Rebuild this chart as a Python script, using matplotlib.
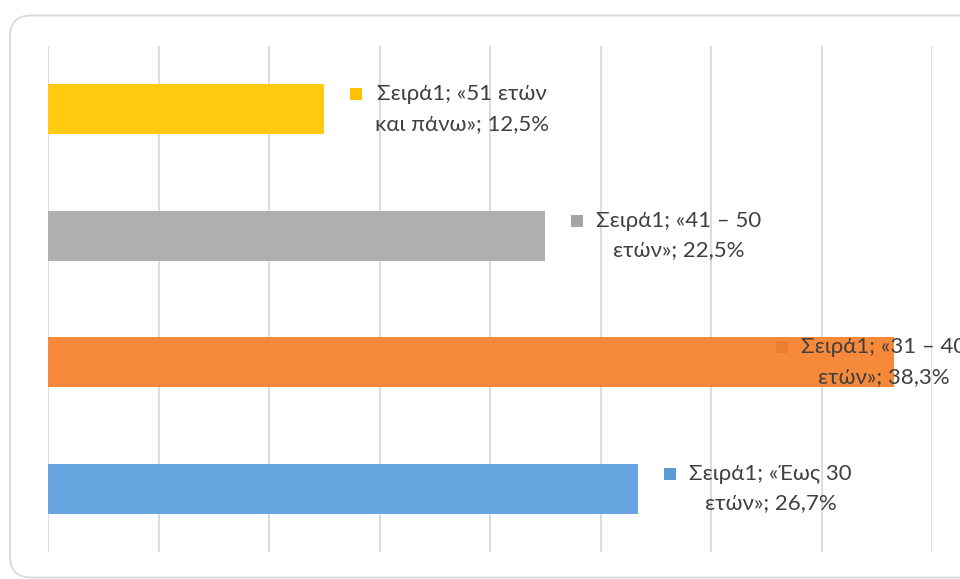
"""Age-group distribution, horizontal bar chart with data labels."""

import matplotlib.pyplot as plt
from matplotlib.patches import FancyBboxPatch
from matplotlib.transforms import offset_copy

series_name = "Σειρά1"
cat_head = ["Έως 30", "31 – 40", "41 – 50", "51 ετών"]
cat_tail = ["ετών", "ετών", "ετών", "και πάνω"]
values = [26.7, 38.3, 22.5, 12.5]
bar_colors = ["#67A6E0", "#F7893B", "#AFAFAF", "#FFCA10"]
key_colors = ["#5B9BD5", "#ED7D31", "#A5A5A5", "#FFC000"]

DPI = 100
fig = plt.figure(figsize=(9.6, 5.79), dpi=DPI)
W, H = 960, 579

# rounded chart-area frame, running off the right edge
frame = FancyBboxPatch(
    (10 / W, 1.5 / H), 1000 / W, 562 / H,
    boxstyle="round,pad=0,rounding_size=0.022",
    transform=fig.transFigure, facecolor="none",
    edgecolor="#D9D9D9", linewidth=1.3, mutation_aspect=W / H, zorder=-1,
)
fig.patches.append(frame)

ax = fig.add_axes([48 / W, 1 - 552 / H, (932 - 48) / W, (552 - 46) / H])
ax.set_facecolor("none")

ypos = list(range(len(values)))
ax.barh(ypos, values, height=0.395, color=bar_colors, zorder=2)

ax.set_xlim(0, 40)
ax.set_ylim(-0.5, len(values) - 0.5)
ax.set_xticks(range(0, 41, 5))
ax.set_yticks([])
ax.tick_params(axis="x", length=0, labelbottom=False)
ax.grid(axis="x", color="#D9D9D9", linewidth=1.3, zorder=0)
for sp in ax.spines.values():
    sp.set_visible(False)

font = ["Lato", "DejaVu Sans"]
for i, (v, head, tail) in enumerate(zip(values, cat_head, cat_tail)):
    label = f"{series_name}; «{head}\n{tail}»; {v:.1f}%".replace(".", ",")
    # labels go right of the bar end, unless they would run past the plot
    shift = 25 if v < 35 else -119
    key_tr = offset_copy(ax.transData, fig=fig, x=shift + 6.5, y=15, units="dots")
    ax.plot(v, i, marker="s", markersize=12 * 72 / DPI, color=key_colors[i],
            markeredgewidth=0, transform=key_tr, zorder=3, clip_on=False)
    txt_tr = offset_copy(ax.transData, fig=fig, x=shift + 26, y=0, units="dots")
    ax.text(v, i, label, transform=txt_tr, ha="left", va="center",
            multialignment="center", fontsize=16, color="#404040",
            family=font, linespacing=1.6, zorder=4, clip_on=False)

fig.savefig("out.png", dpi=DPI)
